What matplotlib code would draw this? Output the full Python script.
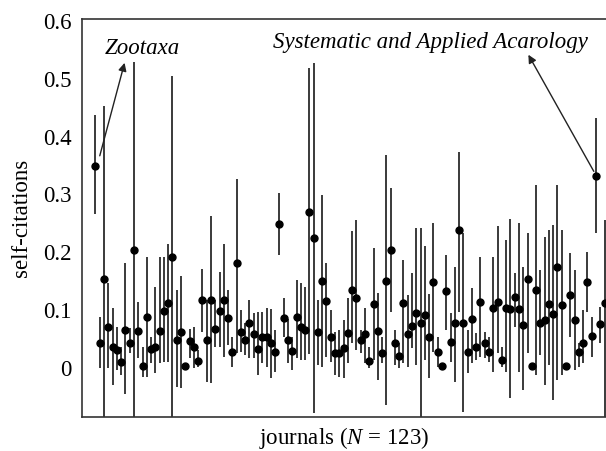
import numpy as np
import matplotlib
matplotlib.use("Agg")
import matplotlib.pyplot as plt

plt.rcParams["font.family"] = ["Liberation Serif", "DejaVu Serif"]
plt.rcParams["mathtext.fontset"] = "custom"
plt.rcParams["mathtext.rm"] = "Liberation Serif"
plt.rcParams["mathtext.it"] = "Liberation Serif:italic"

# self-citation rate per journal (visible journals, left to right)
rate = [0.349, 0.042, 0.153, 0.071, 0.036, 0.031, 0.010, 0.066, 0.042, 0.203,
        0.064, 0.003, 0.087, 0.032, 0.036, 0.064, 0.099, 0.112, 0.191, 0.048,
        0.061, 0.003, 0.047, 0.036, 0.012, 0.117, 0.048, 0.117, 0.067, 0.099,
        0.117, 0.086, 0.028, 0.181, 0.061, 0.048, 0.078, 0.058, 0.032, 0.053,
        0.053, 0.042, 0.028, 0.249, 0.086, 0.048, 0.029, 0.087, 0.070, 0.065,
        0.269, 0.224, 0.061, 0.150, 0.116, 0.053, 0.026, 0.025, 0.034, 0.060,
        0.135, 0.121, 0.048, 0.058, 0.012, 0.110, 0.064, 0.026, 0.150, 0.203,
        0.042, 0.020, 0.112, 0.058, 0.073, 0.094, 0.078, 0.092, 0.053, 0.149,
        0.028, 0.003, 0.133, 0.045, 0.078, 0.238, 0.077, 0.028, 0.084, 0.035,
        0.114, 0.042, 0.028, 0.103, 0.114, 0.014, 0.103, 0.101, 0.123, 0.101,
        0.074, 0.153, 0.003, 0.135, 0.077, 0.083, 0.110, 0.093, 0.175, 0.109,
        0.003, 0.126, 0.083, 0.028, 0.042, 0.148, 0.055, 0.332, 0.076, 0.112]

# upper end of the interval
upper = [0.438, 0.087, 0.454, 0.146, 0.103, 0.071, 0.036, 0.181, 0.068, 0.529,
         0.113, 0.036, 0.191, 0.054, 0.140, 0.191, 0.191, 0.214, 0.505, 0.135,
         0.159, 0.003, 0.067, 0.071, 0.031, 0.171, 0.117, 0.262, 0.117, 0.165,
         0.214, 0.135, 0.054, 0.327, 0.100, 0.077, 0.117, 0.094, 0.096, 0.096,
         0.103, 0.101, 0.065, 0.303, 0.121, 0.084, 0.054, 0.151, 0.146, 0.140,
         0.519, 0.527, 0.117, 0.299, 0.181, 0.100, 0.062, 0.065, 0.083, 0.120,
         0.236, 0.256, 0.065, 0.103, 0.036, 0.207, 0.130, 0.054, 0.368, 0.312,
         0.065, 0.042, 0.187, 0.126, 0.164, 0.242, 0.242, 0.210, 0.127, 0.250,
         0.053, 0.003, 0.195, 0.094, 0.175, 0.373, 0.233, 0.065, 0.138, 0.060,
         0.192, 0.062, 0.053, 0.192, 0.246, 0.036, 0.221, 0.257, 0.164, 0.250,
         0.175, 0.233, 0.003, 0.317, 0.169, 0.227, 0.239, 0.247, 0.317, 0.239,
         0.003, 0.198, 0.169, 0.042, 0.100, 0.200, 0.088, 0.432, 0.105, 0.256]

# lower end of the interval
lower = [0.266, -0.001, -0.100, -0.001, -0.030, -0.004, -0.013, -0.045, 0.025, -0.100,
         0.016, -0.016, -0.016, 0.008, -0.010, 0.008, 0.010, 0.010, -0.100, -0.033,
         -0.036, 0.003, 0.016, -0.001, 0.002, 0.062, -0.024, -0.027, 0.036, 0.036,
         0.019, 0.039, 0.002, 0.025, 0.028, 0.022, 0.016, 0.016, -0.013, 0.008,
         0.002, -0.018, -0.007, 0.195, 0.054, 0.008, -0.004, 0.016, 0.014, 0.013,
         0.024, -0.079, 0.005, 0.002, 0.019, 0.010, -0.013, -0.016, -0.018, 0.008,
         0.042, 0.031, 0.025, 0.008, -0.001, 0.013, -0.021, 0.008, -0.065, 0.097,
         0.005, -0.001, 0.008, 0.002, 0.034, 0.005, -0.100, 0.013, -0.018, 0.028,
         0.002, 0.003, 0.065, 0.010, -0.024, 0.097, -0.076, -0.010, 0.008, 0.013,
         0.019, 0.016, 0.010, -0.007, 0.025, 0.002, -0.007, -0.053, 0.071, -0.007,
         -0.039, 0.025, 0.003, -0.013, 0.022, -0.030, 0.005, -0.056, -0.021, -0.013,
         0.003, 0.054, -0.004, 0.002, 0.008, 0.097, 0.019, 0.233, 0.043, -0.100]

yticks = [0, 0.1, 0.2, 0.3, 0.4, 0.5, 0.6]
ytick_labels = ["0", "0.1", "0.2", "0.3", "0.4", "0.5", "0.6"]

x = np.arange(1, len(rate) + 1)
rate = np.array(rate)
err = [rate - np.array(lower), np.array(upper) - rate]

fig = plt.figure(figsize=(6.06, 4.51), dpi=100)
ax = fig.add_axes([0.1345, 0.0754, 0.8655, 0.8826])

ax.errorbar(x, rate, yerr=err, fmt="o", color="black", ecolor="#2b2b2b",
            elinewidth=1.3, markersize=5, capsize=0)

# labelled outliers
ax.text(3.2, 0.552, "Zootaxa", fontsize=16.5, style="italic", ha="left", va="center")
ax.annotate("", xy=(7.8, 0.528), xytext=(2.0, 0.367),
            arrowprops=dict(arrowstyle="-|>", color="#222222", lw=1.0, mutation_scale=12,
                            shrinkA=0, shrinkB=0))
ax.text(42.4, 0.563, "Systematic and Applied Acarology", fontsize=16.5, style="italic",
        ha="left", va="center")
ax.annotate("", xy=(102.2, 0.542), xytext=(117.5, 0.340),
            arrowprops=dict(arrowstyle="-|>", color="#222222", lw=1.0, mutation_scale=12,
                            shrinkA=0, shrinkB=0))

ax.set_xlim(-2.27, 120.35)
ax.set_ylim(-0.0854, 0.604)
ax.set_yticks(yticks)
ax.set_yticklabels(ytick_labels)
ax.set_xticks([])
ax.tick_params(axis="y", length=0, pad=7, labelsize=16.5)

ax.spines["right"].set_visible(False)
for side in ["left", "top", "bottom"]:
    ax.spines[side].set_linewidth(1.2)
    ax.spines[side].set_color("#333333")

ax.set_xlabel("journals ($N$ = 123)", fontsize=16.5, labelpad=6)
ax.set_ylabel("self-citations", fontsize=16.5, labelpad=8)

plt.savefig("out.png", dpi=100)
